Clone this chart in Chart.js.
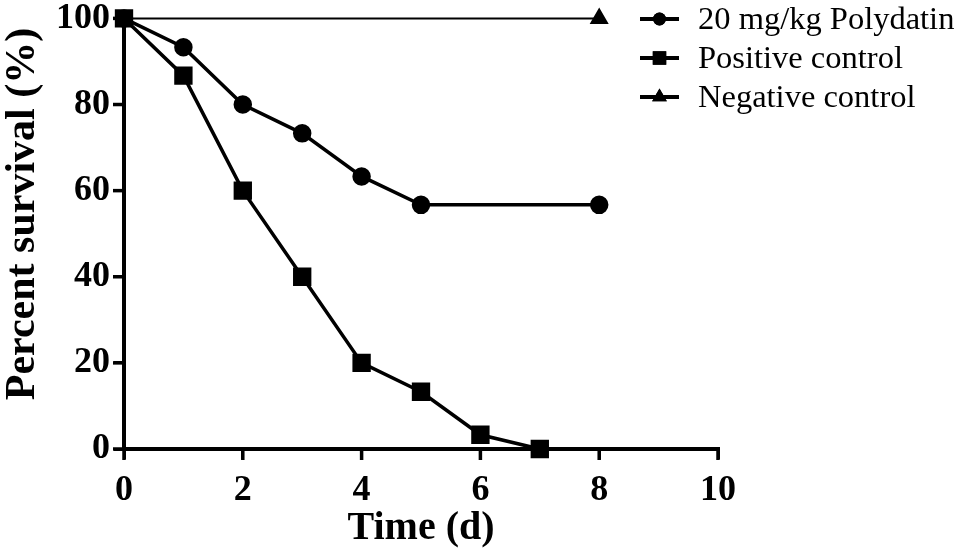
<!DOCTYPE html>
<html>
<head>
<meta charset="utf-8">
<script src="https://cdn.jsdelivr.net/npm/chart.js@4.4.1/dist/chart.umd.min.js"></script>
<style>
html,body{margin:0;padding:0;background:#fff;}
#wrap{width:957px;height:555px;position:relative;}
</style>
</head>
<body>
<div id="wrap"><canvas id="c" width="957" height="555"></canvas></div>
<script>
const seriesNames = ['20 mg/kg Polydatin', 'Positive control', 'Negative control'];
const polydatinDays = [0, 1, 2, 3, 4, 5, 8];
const polydatinSurvival = [100, 93.3, 80, 73.3, 63.3, 56.7, 56.7];
const positiveDays = [0, 1, 2, 3, 4, 5, 6, 7];
const positiveSurvival = [100, 86.7, 60, 40, 20, 13.3, 3.3, 0];
const negativeDays = [0, 8];
const negativeSurvival = [100, 100];
const xTicks = [0, 2, 4, 6, 8, 10];
const yTicks = [0, 20, 40, 60, 80, 100];
const yTitle = 'Percent survival (%)';

const toPts = (xs, ys) => xs.map((x, i) => ({x: x, y: ys[i]}));
const SERIF = '"Liberation Serif", "Times New Roman", serif';

const decorPlugin = {
  id: 'decor',
  afterDraw(chart) {
    const ctx = chart.ctx;
    const ca = chart.chartArea;
    const xs = chart.scales.x, ys = chart.scales.y;
    ctx.save();
    // tick marks
    ctx.strokeStyle = '#000';
    ctx.lineWidth = 3.5;
    ctx.lineCap = 'butt';
    xTicks.forEach(v => {
      const px = xs.getPixelForValue(v);
      ctx.beginPath(); ctx.moveTo(px, ca.bottom); ctx.lineTo(px, ca.bottom + 11); ctx.stroke();
    });
    yTicks.forEach(v => {
      const py = ys.getPixelForValue(v);
      ctx.beginPath(); ctx.moveTo(ca.left, py); ctx.lineTo(ca.left - 11, py); ctx.stroke();
    });
    // y-axis title
    ctx.fillStyle = '#000';
    ctx.font = 'bold 42px ' + SERIF;
    ctx.textAlign = 'center';
    ctx.textBaseline = 'middle';
    ctx.translate(23, 214);
    ctx.rotate(-Math.PI / 2);
    ctx.fillText(yTitle, 0, 0);
    ctx.restore();

    // legend
    ctx.save();
    const rows = [19, 58, 97];
    chart.data.datasets.forEach((ds, i) => {
      const y = rows[i];
      ctx.strokeStyle = '#000';
      ctx.lineWidth = 4;
      ctx.beginPath();
      ctx.moveTo(640, y);
      ctx.lineTo(679, y);
      ctx.stroke();
      ctx.fillStyle = '#000';
      Chart.helpers.drawPoint(ctx, {pointStyle: ds.pointStyle, radius: ds.legendRadius, rotation: 0, borderWidth: 0}, 659.5, y);
      ctx.fill();
      ctx.font = '32.5px ' + SERIF;
      ctx.textBaseline = 'middle';
      ctx.textAlign = 'left';
      ctx.fillText(ds.label, 698, y + 1);
    });
    ctx.restore();
  }
};

new Chart(document.getElementById('c'), {
  type: 'line',
  data: {
    datasets: [
      {label: seriesNames[0], data: toPts(polydatinDays, polydatinSurvival), borderColor: '#000', backgroundColor: '#000', borderWidth: 3.5, pointStyle: 'circle', pointRadius: 7.5, legendRadius: 6.5, clip: false, tension: 0},
      {label: seriesNames[1], data: toPts(positiveDays, positiveSurvival), borderColor: '#000', backgroundColor: '#000', borderWidth: 3.5, pointStyle: 'rect', pointRadius: 10.5, legendRadius: 9.5, clip: false, tension: 0},
      {label: seriesNames[2], data: toPts(negativeDays, negativeSurvival), borderColor: '#000', backgroundColor: '#000', borderWidth: 2, pointStyle: 'triangle', pointRadius: [0, 9], legendRadius: 8.5, clip: false, tension: 0}
    ]
  },
  options: {
    responsive: false,
    animation: false,
    devicePixelRatio: 1,
    layout: {padding: {top: 15, right: 239, bottom: 0, left: 0}},
    plugins: {legend: {display: false}, tooltip: {enabled: false}},
    elements: {point: {borderWidth: 0}},
    scales: {
      x: {
        type: 'linear', min: 0, max: 10,
        afterBuildTicks: s => { s.ticks = xTicks.map(v => ({value: v})); },
        afterFit: s => { s.height = 106; },
        grid: {drawOnChartArea: false, drawTicks: true, tickLength: 10, lineWidth: 3, color: '#000'},
        border: {display: true, width: 4, color: '#000'},
        ticks: {color: '#000', padding: 14, font: {family: SERIF, size: 36, weight: 'bold', lineHeight: 1}, maxRotation: 0},
        title: {display: true, text: 'Time (d)', color: '#000', font: {family: SERIF, size: 40, weight: 'bold', lineHeight: 1}, padding: {top: 0, bottom: 6}}
      },
      y: {
        min: 0, max: 100,
        afterBuildTicks: s => { s.ticks = yTicks.map(v => ({value: v})); },
        afterFit: s => { s.width = 124; },
        grid: {drawOnChartArea: false, drawTicks: true, tickLength: 10, lineWidth: 3, color: '#000'},
        border: {display: true, width: 4, color: '#000'},
        ticks: {color: '#000', padding: 4, font: {family: SERIF, size: 36, weight: 'bold', lineHeight: 0.8}},
        title: {display: false}
      }
    }
  },
  plugins: [decorPlugin]
});
</script>
</body>
</html>
